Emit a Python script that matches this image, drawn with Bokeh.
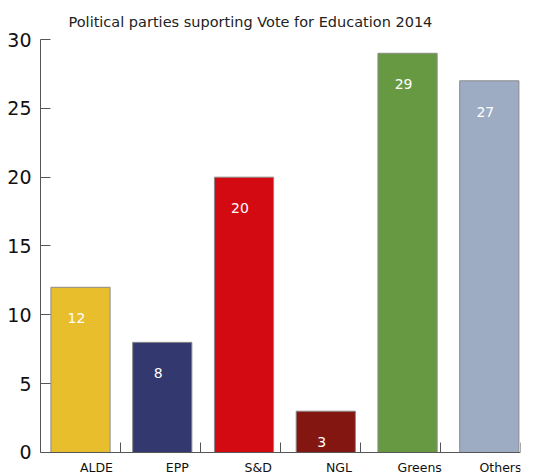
from bokeh.plotting import figure
from bokeh.models import ColumnDataSource, Range1d, FixedTicker, Title, LinearAxis
from bokeh.core.properties import value
from bokeh.embed import file_html
from bokeh.resources import INLINE

parties = ["ALDE", "EPP", "S&D", "NGL", "Greens", "Others"]
supporters = [12, 8, 20, 3, 29, 27]
colors = ["#E8BE2C", "#33386E", "#D30A11", "#831611", "#679942", "#9DABC3"]
y_ticks = [0, 5, 10, 15, 20, 25, 30]

n = len(parties)
bar_x = [i + 0.5 + 0.022 * i for i in range(n)]
label_x = [i + 0.7 + 0.01 * i for i in range(n)]
val_x = [x - 0.05 for x in bar_x]

src = ColumnDataSource(dict(x=bar_x, top=supporters, color=colors,
                            lx=label_x, name=parties, vx=val_x,
                            txt=[str(v) for v in supporters]))

FONT = "DejaVu Sans"
p = figure(width=534, height=474, output_backend="svg", toolbar_location=None,
           x_range=Range1d(0, 6), y_range=Range1d(-1.6, 30),
           min_border_left=40, min_border_right=14, min_border_top=39,
           min_border_bottom=0, x_axis_location=None)
p.title = Title(text="Political parties suporting Vote for Education 2014",
                align="left", text_font=FONT, text_font_size="14.5px",
                text_font_style="normal", text_color="#222222", offset=28,
                standoff=20)
p.outline_line_color = None
p.grid.visible = False

p.vbar(x="x", top="top", width=0.74, bottom=0, source=src, fill_color="color",
       line_color="#8a8a8a", line_width=1)
p.text(x="vx", y="top", text="txt", source=src, text_color="white",
       text_font=value(FONT), text_font_size="14px", text_align="center",
       text_baseline="middle", y_offset=31)
p.text(x="lx", y=0, text="name", source=src, text_color="#111111",
       text_font=value(FONT), text_font_size="12.5px", text_align="center",
       text_baseline="middle", y_offset=15)

yax = p.yaxis[0]
yax.ticker = FixedTicker(ticks=y_ticks)
yax.bounds = (0, 30)
yax.major_tick_in = 10
yax.major_tick_out = 0
yax.minor_tick_line_color = None
yax.axis_line_color = "#555555"
yax.major_tick_line_color = "#555555"
yax.major_label_text_font = FONT
yax.major_label_text_font_size = "19px"
yax.major_label_text_color = "#111111"
yax.major_label_standoff = 9

xax = LinearAxis(fixed_location=0)
xax.ticker = FixedTicker(ticks=[1, 2, 3, 4, 5, 6])
xax.major_tick_in = 10
xax.major_tick_out = 0
xax.minor_tick_line_color = None
xax.axis_line_color = "#555555"
xax.major_tick_line_color = "#555555"
xax.major_label_text_font_size = "0px"
xax.major_label_text_color = None
p.add_layout(xax, "below")

open("out.html", "w").write(file_html(p, INLINE))
